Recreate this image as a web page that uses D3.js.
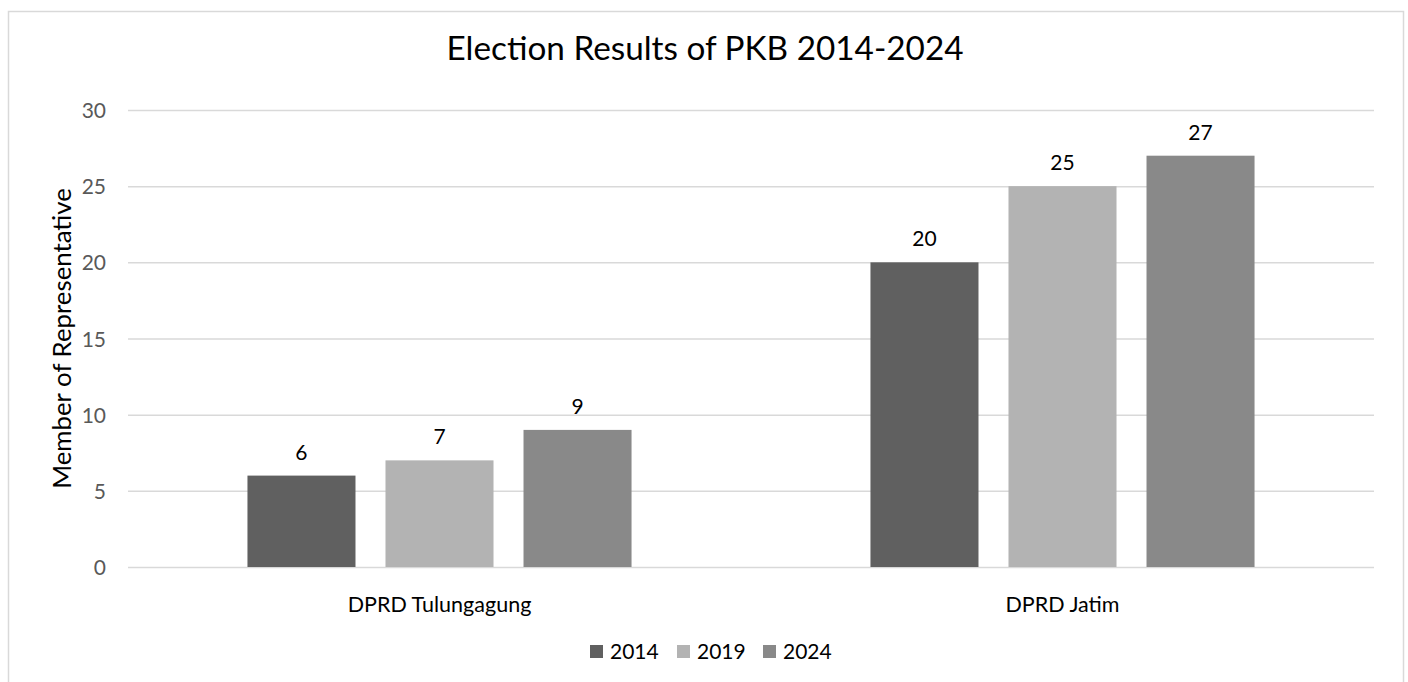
<!DOCTYPE html>
<html>
<head>
<meta charset="utf-8">
<script src="https://cdn.jsdelivr.net/npm/d3@7"></script>
<style>
  html, body { margin: 0; padding: 0; background: #fff; }
  svg { display: block; }
  text { font-family: Lato, "Open Sans", sans-serif; }
</style>
</head>
<body>
<svg id="chart" width="1408" height="682"></svg>
<script>
const categories = ["DPRD Tulungagung", "DPRD Jatim"];
const seriesNames = ["2014", "2019", "2024"];
const values2014 = [6, 20];
const values2019 = [7, 25];
const values2024 = [9, 27];
const yTicks = [0, 5, 10, 15, 20, 25, 30];
const colors = ["#606060", "#b3b3b3", "#898989"];
const titleText = "Election Results of PKB 2014-2024";
const yTitleText = "Member of Representative";

const seriesValues = [values2014, values2019, values2024];
const svg = d3.select("#chart");

// chart border
svg.append("rect")
  .attr("x", 8.5).attr("y", 11.5)
  .attr("width", 1395).attr("height", 700)
  .attr("fill", "#fff").attr("stroke", "#d9d9d9").attr("stroke-width", 1.5);

const plot = { left: 128, right: 1374, top: 110, bottom: 567 };

const y = d3.scaleLinear().domain([0, 30]).range([plot.bottom, plot.top]);
const x0 = d3.scaleBand().domain(categories).range([plot.left, plot.right]).padding(0);
const groupW = x0.bandwidth() * 0.6165;
const x1 = d3.scaleBand().domain(seriesNames).range([0, groupW]).paddingInner(30 / 138).paddingOuter(0);

// gridlines
const yAxis = d3.axisLeft(y).tickValues(yTicks).tickSize(-(plot.right - plot.left)).tickPadding(22);
const gy = svg.append("g").attr("transform", `translate(${plot.left},0)`).call(yAxis);
gy.select(".domain").remove();
gy.selectAll(".tick line").attr("stroke", "#d9d9d9").attr("stroke-width", 1.5);
gy.selectAll(".tick text")
  .attr("fill", "#595959")
  .style("font-size", "21px")
  .attr("dy", "0.36em");

// bars
const groups = svg.append("g").selectAll("g")
  .data(categories)
  .join("g")
  .attr("transform", d => `translate(${x0(d) + (x0.bandwidth() - groupW) / 2},0)`);

groups.selectAll("rect")
  .data((d, i) => seriesNames.map((s, j) => ({ s, j, v: seriesValues[j][i] })))
  .join("rect")
  .attr("x", d => x1(d.s))
  .attr("y", d => y(d.v))
  .attr("width", x1.bandwidth())
  .attr("height", d => y(0) - y(d.v))
  .attr("fill", d => colors[d.j]);

groups.selectAll("text.lbl")
  .data((d, i) => seriesNames.map((s, j) => ({ s, j, v: seriesValues[j][i] })))
  .join("text")
  .attr("class", "lbl")
  .attr("x", d => x1(d.s) + x1.bandwidth() / 2)
  .attr("y", d => y(d.v) - 16)
  .attr("text-anchor", "middle")
  .attr("fill", "#000")
  .style("font-size", "21px")
  .text(d => d.v);

// x axis labels
const xAxis = d3.axisBottom(x0).tickSize(0).tickPadding(30);
const gx = svg.append("g").attr("transform", `translate(0,${plot.bottom})`).call(xAxis);
gx.select(".domain").remove();
gx.selectAll(".tick text").attr("fill", "#000").style("font-size", "21.5px");

// title
svg.append("text")
  .attr("x", 705).attr("y", 60)
  .attr("text-anchor", "middle")
  .attr("fill", "#000")
  .style("font-size", "33.3px")
  .text(titleText);

// y axis title
svg.append("text")
  .attr("transform", `translate(71,${(plot.top + plot.bottom) / 2}) rotate(-90)`)
  .attr("text-anchor", "middle")
  .attr("fill", "#000")
  .style("font-size", "25.8px")
  .text(yTitleText);

// legend
const legendX = [590, 677, 763];
const legend = svg.append("g").selectAll("g")
  .data(seriesNames)
  .join("g")
  .attr("transform", (d, i) => `translate(${legendX[i]},645)`);
legend.append("rect").attr("width", 13).attr("height", 13).attr("fill", (d, i) => colors[i]);
legend.append("text")
  .attr("x", 20).attr("y", 6.5).attr("dy", "0.36em")
  .attr("fill", "#000")
  .style("font-size", "21px")
  .text(d => d);
</script>
</body>
</html>
